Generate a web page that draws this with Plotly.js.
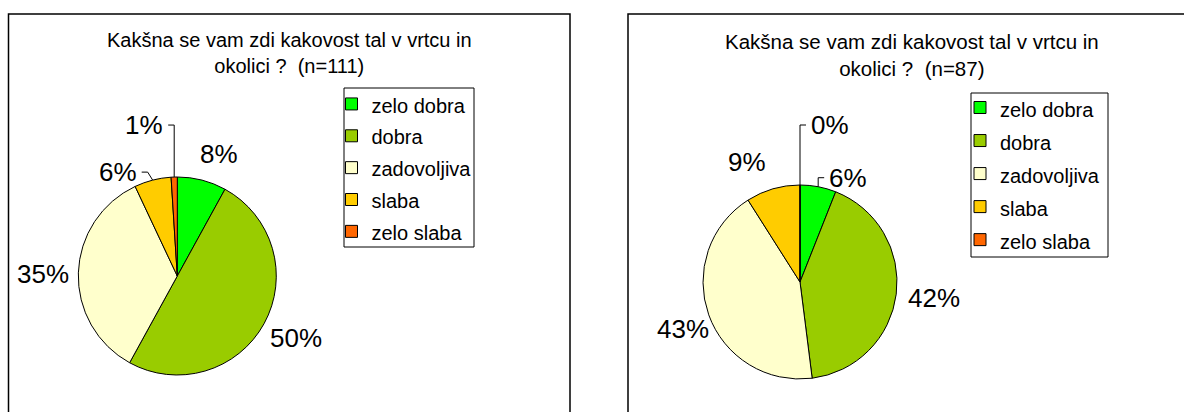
<!DOCTYPE html>
<html><head><meta charset="utf-8">
<script src="https://cdn.plot.ly/plotly-3.0.1.min.js"></script>
<style>html,body{margin:0;padding:0;background:#fff;}#chart{width:1184px;height:412px;}</style>
</head><body><div id="chart"></div>
<script>
// ---- data ----
const categories = ['zelo dobra', 'dobra', 'zadovoljiva', 'slaba', 'zelo slaba'];
const sharesA = [8, 50, 35, 6, 1];   // n=111
const sharesB = [6, 42, 43, 9, 0];   // n=87
const titleA = 'Kakšna se vam zdi kakovost tal v vrtcu in<br>okolici ?\u00a0 (n=111)';
const titleB = 'Kakšna se vam zdi kakovost tal v vrtcu in<br>okolici ?\u00a0 (n=87)';

// ---- style ----
const sliceColors = ['#00FF00', '#99CC00', '#FFFFCC', '#FFCC00', '#FF6600'];
const FONT = 'Liberation Sans, Arial, sans-serif';
const W = 1184, H = 412;
const px = x => x / W, py = y => 1 - y / H;

const panels = [
  { values: sharesA, title: titleA, cx: 177.3, cy: 276, r: 99, frame: [8.5, 570],
    titleX: 289, titleY: 53.4, titleSize: 20, legendName: 'legend', group: 'A',
    legendLeft: 331.5, legendTop: 83, legendFont: 22.2, legendBox: [344, 474, 88, 247],
    labelStyle: [ {nudge: [10, 2]}, {nudge: [7, 0]}, {nudge: [-6, 2]},
                  {leader: {side: -1, rise: 8, dx: 5}}, {leader: {side: -1, rise: 52, dx: 0}} ] },
  { values: sharesB, title: titleB, cx: 800, cy: 282, r: 97, frame: [628, 1200],
    titleX: 912, titleY: 54.5, titleSize: 20.5, legendName: 'legend2', group: 'B',
    legendLeft: 960, legendTop: 86, legendFont: 23.1, legendBox: [971, 1108, 93, 257],
    labelStyle: [ {leader: {side: 1, rise: 9, dx: 0}}, {nudge: [9, 0]}, {nudge: [2, 4]},
                  {nudge: [-18, 1]}, {leader: {side: 1, rise: 60, dx: 0}} ] }
];

const traces = [], annotations = [], shapes = [], layoutLegends = {};

panels.forEach(p => {
  traces.push({
    type: 'pie',
    labels: categories.map(c => '<span style="font-size:20px">' + c + '</span>'),
    values: p.values,
    sort: false, direction: 'clockwise', rotation: 0,
    marker: {colors: sliceColors, line: {color: '#000', width: 1}},
    textinfo: 'none', hoverinfo: 'skip',
    domain: {x: [px(p.cx - p.r), px(p.cx + p.r)], y: [py(p.cy + p.r), py(p.cy - p.r)]},
    legend: p.legendName, legendgroup: p.group, showlegend: true
  });
  layoutLegends[p.legendName] = {
    x: px(p.legendLeft), y: py(p.legendTop), xanchor: 'left', yanchor: 'top',
    bgcolor: 'rgba(0,0,0,0)', borderwidth: 0,
    font: {family: FONT, size: p.legendFont, color: '#000'}, traceorder: 'normal'
  };
  // legend frame
  shapes.push({type: 'rect', xref: 'paper', yref: 'paper',
    x0: px(p.legendBox[0]), x1: px(p.legendBox[1]), y0: py(p.legendBox[3]), y1: py(p.legendBox[2]),
    line: {color: '#000', width: 1}, fillcolor: '#fff', layer: 'below'});
  // panel frame
  shapes.push({type: 'rect', xref: 'paper', yref: 'paper',
    x0: px(p.frame[0]), x1: px(p.frame[1]), y0: py(440), y1: py(14),
    line: {color: '#000', width: 1.5}, fillcolor: 'rgba(0,0,0,0)'});
  // title
  annotations.push({xref: 'paper', yref: 'paper', x: px(p.titleX), y: py(p.titleY),
    xanchor: 'center', yanchor: 'middle', showarrow: false, text: p.title,
    font: {family: FONT, size: p.titleSize, color: '#000'}});
  // percentage labels
  const total = p.values.reduce((a, b) => a + b, 0);
  let cum = 0;
  p.values.forEach((v, i) => {
    const mid = (cum + v / 2) / total * 2 * Math.PI;
    cum += v;
    const dx = Math.sin(mid), dy = -Math.cos(mid);
    const st = p.labelStyle[i];
    const txt = Math.round(v / total * 100) + '%';
    if (st.leader) {
      const L = st.leader;
      const P = [p.cx + p.r * dx, p.cy + p.r * dy];
      const corner = [P[0] + L.side * L.dx, P[1] - L.rise];
      const tickEnd = corner[0] + L.side * 6;
      shapes.push({type: 'path', xref: 'paper', yref: 'paper',
        path: 'M' + px(P[0]) + ',' + py(P[1]) + ' L' + px(corner[0]) + ',' + py(corner[1]) +
              ' L' + px(tickEnd) + ',' + py(corner[1]),
        line: {color: '#000', width: 1}});
      annotations.push({xref: 'paper', yref: 'paper', x: px(tickEnd + L.side * 3), y: py(corner[1]),
        xanchor: L.side < 0 ? 'right' : 'left', yanchor: 'middle', showarrow: false, text: txt,
        font: {family: FONT, size: 26, color: '#000'}});
    } else {
      const Ld = p.r + 29;
      annotations.push({xref: 'paper', yref: 'paper',
        x: px(p.cx + Ld * dx + st.nudge[0]), y: py(p.cy + Ld * dy + st.nudge[1]),
        xanchor: 'center', yanchor: 'middle', showarrow: false, text: txt,
        font: {family: FONT, size: 26, color: '#000'}});
    }
  });
});

const layout = Object.assign({
  width: W, height: H, margin: {l: 0, r: 0, t: 0, b: 0},
  paper_bgcolor: '#fff', plot_bgcolor: '#fff',
  annotations: annotations, shapes: shapes
}, layoutLegends);

Plotly.newPlot('chart', traces, layout, {displayModeBar: false, staticPlot: true});
</script>
</body></html>
